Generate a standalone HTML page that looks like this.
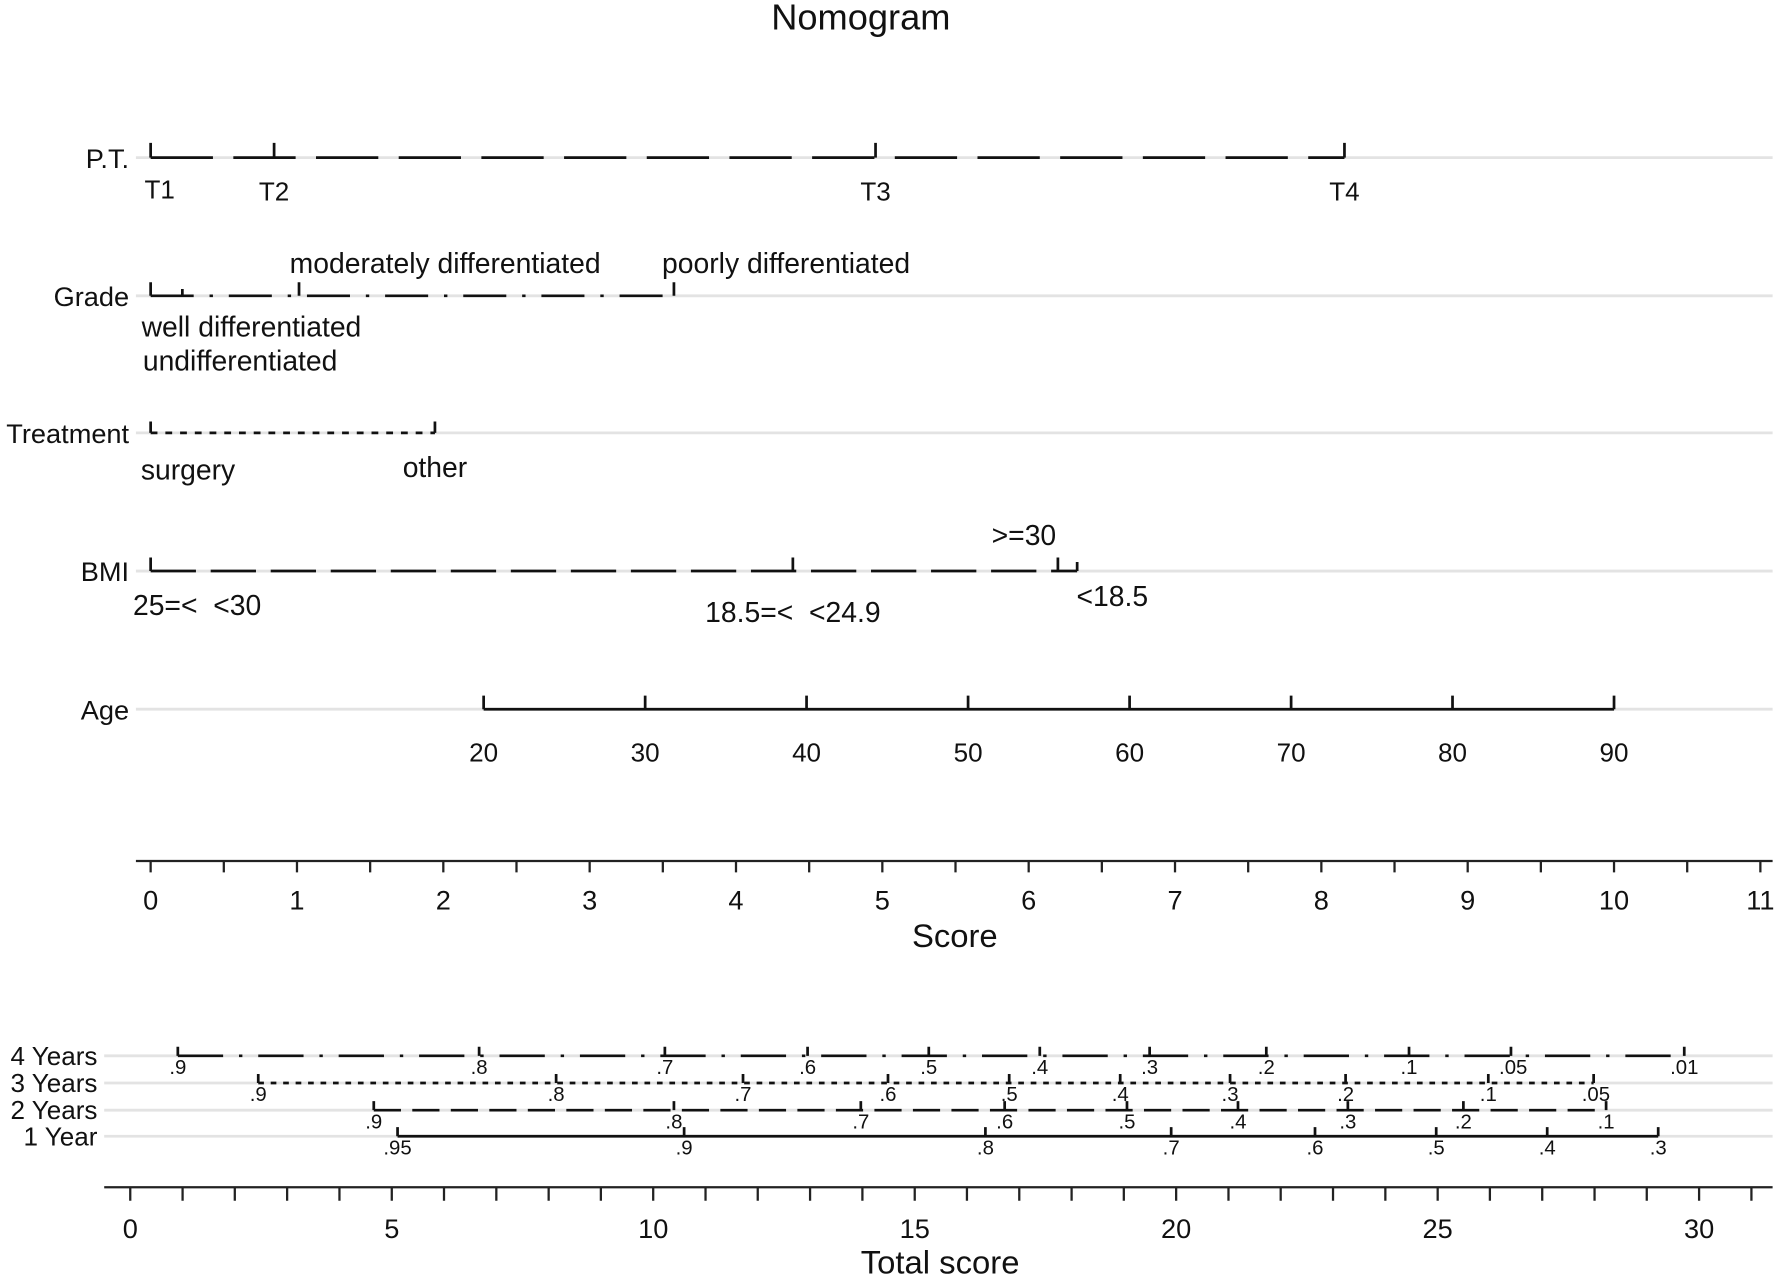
<!DOCTYPE html>
<html><head><meta charset="utf-8"><style>
html,body{margin:0;padding:0;background:#fff}
svg{display:block}
text{font-family:"Liberation Sans",Arial,sans-serif;fill:#111;white-space:pre}
</style></head><body>
<svg width="1776" height="1278" viewBox="0 0 1568 1128" xmlns="http://www.w3.org/2000/svg">
<rect width="1568" height="1128" fill="#fff"/>
<text x="760" y="26" font-size="32" text-anchor="middle">Nomogram</text>
<g stroke="#e3e3e3" stroke-width="2.5">
<line x1="120" y1="139" x2="1565" y2="139"/>
<line x1="120" y1="261" x2="1565" y2="261"/>
<line x1="120" y1="382" x2="1565" y2="382"/>
<line x1="120" y1="504" x2="1565" y2="504"/>
<line x1="120" y1="626" x2="1565" y2="626"/>
<line x1="92" y1="932" x2="1565" y2="932"/>
<line x1="92" y1="956" x2="1565" y2="956"/>
<line x1="92" y1="980" x2="1565" y2="980"/>
<line x1="92" y1="1003" x2="1565" y2="1003"/>
</g>
<g font-size="24" text-anchor="end">
<text x="114" y="148">P.T.</text>
<text x="114" y="270">Grade</text>
<text x="114" y="391">Treatment</text>
<text x="114" y="513">BMI</text>
<text x="114" y="635">Age</text>
</g>
<g stroke="#111" stroke-width="2.4" fill="none">
<line x1="133" y1="139" x2="1187" y2="139" stroke-dasharray="55,18"/>
<path d="M133 126v13M242 126v13M773 126v13M1187 126v13"/>
<line x1="133" y1="261" x2="595" y2="261" stroke-dasharray="38,14,3,14"/>
<path d="M133 249v12M161 255v6M264 249v12M595 249v12"/>
<line x1="133" y1="382" x2="384" y2="382" stroke-dasharray="6,7"/>
<path d="M133 372v10M384 372v10"/>
<line x1="133" y1="504" x2="951" y2="504" stroke-dasharray="40,13"/>
<path d="M133 492v12M700 492v12M934 492v12M951 496v8"/>
<line x1="427" y1="626" x2="1425" y2="626"/>
<path d="M427 614v12M569.6 614v12M712.1 614v12M854.7 614v12M997.3 614v12M1139.9 614v12M1282.4 614v12M1425 614v12"/>
</g>
<g font-size="23" text-anchor="middle">
<text x="141" y="175">T1</text><text x="242" y="177">T2</text><text x="773" y="177">T3</text><text x="1187" y="177">T4</text>
</g>
<g font-size="25" text-anchor="middle">
<text x="393" y="241">moderately differentiated</text>
<text x="694" y="241">poorly differentiated</text>
<text x="222" y="297">well differentiated</text>
<text x="212" y="327">undifferentiated</text>
<text x="166" y="423">surgery</text>
<text x="384" y="421">other</text>
<text x="174" y="543">25=&lt;  &lt;30</text>
<text x="700" y="549">18.5=&lt;  &lt;24.9</text>
<text x="904" y="481">&gt;=30</text>
<text x="982" y="535">&lt;18.5</text>
</g>
<g font-size="23" text-anchor="middle">
<text x="427" y="672">20</text><text x="569.6" y="672">30</text><text x="712.1" y="672">40</text><text x="854.7" y="672">50</text><text x="997.3" y="672">60</text><text x="1139.9" y="672">70</text><text x="1282.4" y="672">80</text><text x="1425" y="672">90</text>
</g>
<g stroke="#222" stroke-width="2">
<line x1="120" y1="760" x2="1565" y2="760"/>
<path d="M133 760v10M197.6 760v10M262.2 760v10M326.8 760v10M391.4 760v10M456 760v10M520.6 760v10M585.2 760v10M649.8 760v10M714.4 760v10M779 760v10M843.6 760v10M908.2 760v10M972.8 760v10M1037.4 760v10M1102 760v10M1166.6 760v10M1231.2 760v10M1295.8 760v10M1360.4 760v10M1425 760v10M1489.6 760v10M1554.2 760v10"/>
</g>
<g font-size="24" text-anchor="middle">
<text x="133" y="803">0</text><text x="262.2" y="803">1</text><text x="391.4" y="803">2</text><text x="520.6" y="803">3</text><text x="649.8" y="803">4</text><text x="779" y="803">5</text><text x="908.2" y="803">6</text><text x="1037.4" y="803">7</text><text x="1166.6" y="803">8</text><text x="1295.8" y="803">9</text><text x="1425" y="803">10</text><text x="1554.2" y="803">11</text>
<text x="843" y="836" font-size="29">Score</text>
</g>
<g font-size="23" text-anchor="end">
<text x="86" y="940">4 Years</text>
<text x="86" y="964">3 Years</text>
<text x="86" y="988">2 Years</text>
<text x="86" y="1011">1 Year</text>
</g>
<g stroke="#111" stroke-width="2.4" fill="none">
<line x1="157" y1="932" x2="1487" y2="932" stroke-dasharray="40,14,3,14"/>
<path d="M157 924v8M423 924v8M587 924v8M713 924v8M820 924v8M918 924v8M1015 924v8M1118 924v8M1244 924v8M1334 924v8M1487 924v8"/>
<line x1="228" y1="956" x2="1407" y2="956" stroke-dasharray="5,6"/>
<path d="M228 948v8M491 948v8M656 948v8M784 948v8M891 948v8M989 948v8M1086 948v8M1188 948v8M1314 948v8M1407 948v8"/>
<line x1="330" y1="980" x2="1418" y2="980" stroke-dasharray="24,10"/>
<path d="M330 972v8M595 972v8M760 972v8M887 972v8M995 972v8M1093 972v8M1190 972v8M1292 972v8M1418 972v8"/>
<line x1="351" y1="1003" x2="1464" y2="1003"/>
<path d="M351 995v8M604 995v8M870 995v8M1034 995v8M1161 995v8M1268 995v8M1366 995v8M1464 995v8"/>
</g>
<g font-size="18" text-anchor="middle">
<text x="157" y="948">.9</text><text x="423" y="948">.8</text><text x="587" y="948">.7</text><text x="713" y="948">.6</text><text x="820" y="948">.5</text><text x="918" y="948">.4</text><text x="1015" y="948">.3</text><text x="1118" y="948">.2</text><text x="1244" y="948">.1</text><text x="1336" y="948">.05</text><text x="1487" y="948">.01</text>
<text x="228" y="972">.9</text><text x="491" y="972">.8</text><text x="656" y="972">.7</text><text x="784" y="972">.6</text><text x="891" y="972">.5</text><text x="989" y="972">.4</text><text x="1086" y="972">.3</text><text x="1188" y="972">.2</text><text x="1314" y="972">.1</text><text x="1409" y="972">.05</text>
<text x="330" y="996">.9</text><text x="595" y="996">.8</text><text x="760" y="996">.7</text><text x="887" y="996">.6</text><text x="995" y="996">.5</text><text x="1093" y="996">.4</text><text x="1190" y="996">.3</text><text x="1292" y="996">.2</text><text x="1418" y="996">.1</text>
<text x="351" y="1019">.95</text><text x="604" y="1019">.9</text><text x="870" y="1019">.8</text><text x="1034" y="1019">.7</text><text x="1161" y="1019">.6</text><text x="1268" y="1019">.5</text><text x="1366" y="1019">.4</text><text x="1464" y="1019">.3</text>
</g>
<g stroke="#222" stroke-width="2">
<line x1="92" y1="1048" x2="1565" y2="1048"/>
<path d="M115 1048v12M161.2 1048v12M207.3 1048v12M253.5 1048v12M299.7 1048v12M345.9 1048v12M392 1048v12M438.2 1048v12M484.4 1048v12M530.5 1048v12M576.7 1048v12M622.9 1048v12M669 1048v12M715.2 1048v12M761.4 1048v12M807.6 1048v12M853.7 1048v12M899.9 1048v12M946.1 1048v12M992.2 1048v12M1038.4 1048v12M1084.6 1048v12M1130.7 1048v12M1176.9 1048v12M1223.1 1048v12M1269.3 1048v12M1315.4 1048v12M1361.6 1048v12M1407.8 1048v12M1453.9 1048v12M1500.1 1048v12M1546.3 1048v12"/>
</g>
<g font-size="24" text-anchor="middle">
<text x="115" y="1093">0</text><text x="345.9" y="1093">5</text><text x="576.7" y="1093">10</text><text x="807.6" y="1093">15</text><text x="1038.4" y="1093">20</text><text x="1269.3" y="1093">25</text><text x="1500.1" y="1093">30</text>
<text x="830" y="1124" font-size="29">Total score</text>
</g>
</svg>
</body></html>
